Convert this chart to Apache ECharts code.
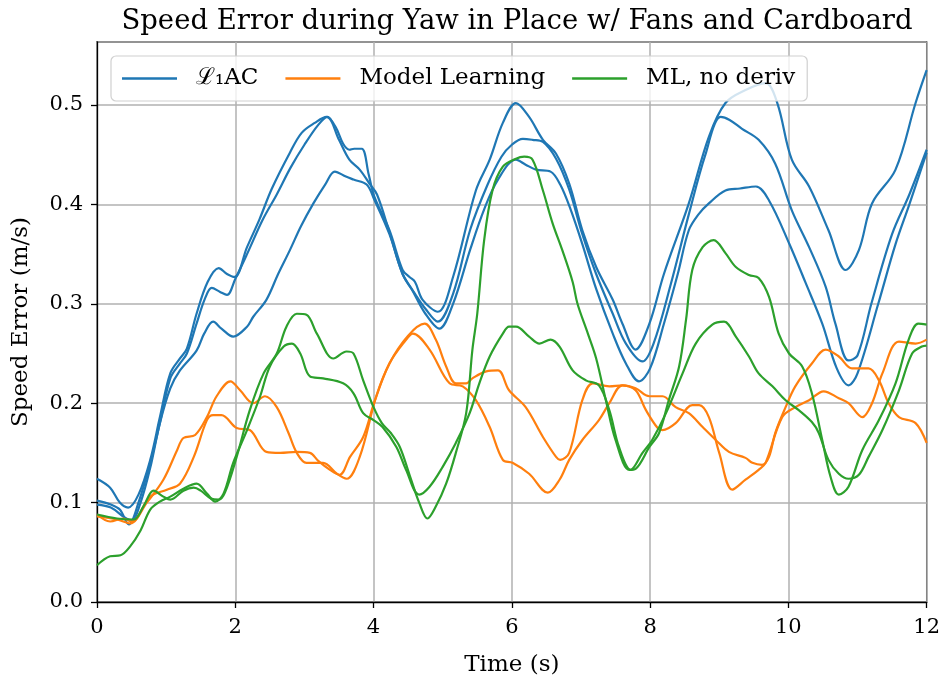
<!DOCTYPE html>
<html><head><meta charset="utf-8">
<script src="https://cdn.jsdelivr.net/npm/echarts@6/dist/echarts.min.js"></script>
<style>html,body{margin:0;padding:0;background:#fff}#c{width:943px;height:682px}</style>
</head><body><div id="c"></div>
<script>
// ---- Data (time s, speed error m/s) ----
const xTicks = [0, 2, 4, 6, 8, 10, 12];
const yTicks = [0.0, 0.1, 0.2, 0.3, 0.4, 0.5];
const legendNames = ['\u2112\u2081AC', 'Model Learning', 'ML, no deriv'];

const l1acRun1 = [[0,0.124],[0.19,0.115],[0.33,0.1],[0.45,0.095],[0.6,0.108],[0.77,0.143],[0.91,0.186],[1.06,0.23],[1.2,0.245],[1.3,0.255],[1.44,0.29],[1.6,0.322],[1.76,0.336],[1.88,0.33],[1.99,0.327],[2.17,0.357],[2.35,0.385],[2.53,0.416],[2.79,0.452],[2.96,0.472],[3.15,0.482],[3.32,0.488],[3.45,0.478],[3.56,0.461],[3.65,0.455],[3.72,0.456],[3.83,0.456],[3.93,0.43],[4.01,0.408],[4.23,0.374],[4.42,0.334],[4.52,0.327],[4.6,0.322],[4.71,0.304],[4.93,0.292],[5.15,0.327],[5.48,0.414],[5.68,0.445],[5.87,0.482],[6.06,0.502],[6.25,0.488],[6.45,0.465],[6.64,0.451],[6.83,0.421],[7.02,0.374],[7.22,0.337],[7.46,0.304],[7.6,0.28],[7.79,0.254],[7.99,0.28],[8.2,0.33],[8.56,0.401],[8.85,0.468],[9.09,0.502],[9.38,0.515],[9.67,0.522],[9.84,0.502],[10.05,0.445],[10.3,0.418],[10.58,0.374],[10.83,0.334],[11.02,0.354],[11.21,0.401],[11.55,0.435],[11.84,0.502],[12,0.535]];
const l1acRun2 = [[0,0.102],[0.2,0.098],[0.33,0.093],[0.46,0.078],[0.6,0.1],[0.77,0.14],[0.91,0.18],[1.06,0.225],[1.2,0.24],[1.3,0.25],[1.44,0.28],[1.56,0.305],[1.66,0.316],[1.78,0.312],[1.88,0.309],[2.0,0.325],[2.17,0.35],[2.4,0.385],[2.6,0.41],[2.8,0.437],[3.0,0.46],[3.2,0.48],[3.33,0.488],[3.5,0.465],[3.65,0.445],[3.8,0.435],[3.94,0.421],[4.05,0.41],[4.23,0.372],[4.42,0.33],[4.6,0.31],[4.75,0.295],[4.93,0.282],[5.15,0.31],[5.4,0.375],[5.65,0.42],[5.85,0.448],[6.0,0.46],[6.16,0.466],[6.3,0.465],[6.45,0.463],[6.64,0.446],[6.83,0.415],[7.02,0.37],[7.22,0.33],[7.46,0.29],[7.65,0.26],[7.89,0.242],[8.05,0.26],[8.3,0.32],[8.56,0.39],[8.8,0.45],[9.02,0.488],[9.15,0.485],[9.33,0.476],[9.57,0.465],[9.81,0.441],[10.05,0.394],[10.3,0.357],[10.54,0.317],[10.68,0.28],[10.87,0.243],[11.0,0.248],[11.2,0.3],[11.5,0.37],[11.75,0.41],[12,0.455]];
const l1acRun3 = [[0,0.098],[0.2,0.095],[0.4,0.085],[0.5,0.082],[0.63,0.1],[0.77,0.135],[0.91,0.18],[1.06,0.215],[1.2,0.233],[1.44,0.253],[1.55,0.27],[1.68,0.282],[1.8,0.275],[1.97,0.267],[2.17,0.277],[2.26,0.287],[2.45,0.304],[2.62,0.33],[2.79,0.354],[2.95,0.378],[3.13,0.401],[3.3,0.42],[3.44,0.433],[3.6,0.428],[3.71,0.425],[3.9,0.42],[4.01,0.405],[4.23,0.37],[4.42,0.33],[4.55,0.315],[4.75,0.29],[4.95,0.275],[5.15,0.3],[5.4,0.355],[5.6,0.395],[5.8,0.425],[6.06,0.445],[6.2,0.44],[6.35,0.435],[6.56,0.433],[6.7,0.42],[6.85,0.395],[7.02,0.36],[7.22,0.315],[7.46,0.27],[7.65,0.24],[7.84,0.222],[8.0,0.235],[8.2,0.28],[8.4,0.33],[8.56,0.374],[8.7,0.39],[8.85,0.401],[9.09,0.414],[9.3,0.416],[9.53,0.418],[9.72,0.404],[10.01,0.361],[10.25,0.321],[10.49,0.28],[10.7,0.235],[10.87,0.218],[11.0,0.23],[11.3,0.3],[11.55,0.36],[11.75,0.4],[12,0.452]];

const mlRun1 = [[0,0.088],[0.19,0.081],[0.38,0.084],[0.5,0.081],[0.72,0.1],[0.96,0.123],[1.16,0.153],[1.25,0.165],[1.42,0.168],[1.59,0.186],[1.73,0.207],[1.93,0.222],[2.07,0.213],[2.26,0.2],[2.43,0.207],[2.6,0.196],[2.77,0.17],[2.89,0.15],[3.03,0.14],[3.27,0.14],[3.47,0.129],[3.61,0.124],[3.8,0.146],[4.04,0.207],[4.23,0.24],[4.45,0.262],[4.57,0.27],[4.81,0.254],[5.1,0.22],[5.29,0.217],[5.48,0.203],[5.68,0.176],[5.87,0.143],[6.01,0.14],[6.25,0.129],[6.52,0.11],[6.69,0.123],[6.83,0.143],[7.02,0.163],[7.26,0.183],[7.41,0.2],[7.6,0.218],[7.79,0.213],[7.94,0.193],[8.11,0.175],[8.18,0.173],[8.37,0.18],[8.61,0.198],[8.71,0.198],[8.85,0.186],[9.0,0.15],[9.19,0.113],[9.38,0.123],[9.57,0.133],[9.67,0.14],[9.91,0.186],[10.1,0.196],[10.3,0.203],[10.51,0.212],[10.73,0.205],[10.87,0.2],[11.07,0.186],[11.21,0.2],[11.36,0.23],[11.6,0.262],[11.84,0.26],[12,0.264]];
const mlRun2 = [[0,0.086],[0.29,0.083],[0.48,0.079],[0.77,0.106],[1.01,0.113],[1.2,0.119],[1.4,0.146],[1.59,0.183],[1.68,0.188],[1.8,0.188],[2.02,0.175],[2.21,0.173],[2.45,0.151],[2.65,0.15],[2.89,0.151],[3.08,0.15],[3.2,0.142],[3.37,0.133],[3.51,0.128],[3.66,0.146],[3.85,0.166],[4.02,0.203],[4.23,0.24],[4.5,0.268],[4.74,0.28],[4.9,0.264],[5.05,0.237],[5.19,0.22],[5.34,0.22],[5.43,0.225],[5.63,0.232],[5.8,0.233],[5.96,0.213],[6.2,0.196],[6.45,0.166],[6.64,0.146],[6.7,0.143],[6.83,0.15],[7.02,0.203],[7.17,0.22],[7.41,0.217],[7.6,0.218],[7.79,0.215],[7.99,0.207],[8.18,0.207],[8.37,0.196],[8.56,0.19],[8.76,0.176],[8.95,0.163],[9.14,0.151],[9.38,0.145],[9.48,0.14],[9.62,0.138],[9.72,0.146],[9.81,0.17],[9.96,0.196],[10.1,0.217],[10.34,0.24],[10.54,0.254],[10.73,0.247],[10.92,0.235],[11.16,0.235],[11.31,0.223],[11.45,0.2],[11.6,0.186],[11.84,0.18],[12,0.16]];

const mlNoDerivRun1 = [[0,0.037],[0.19,0.046],[0.34,0.047],[0.48,0.056],[0.63,0.072],[0.77,0.093],[0.91,0.101],[1.06,0.106],[1.25,0.114],[1.44,0.119],[1.59,0.109],[1.71,0.101],[1.83,0.109],[1.97,0.14],[2.17,0.173],[2.36,0.207],[2.5,0.237],[2.7,0.257],[2.82,0.26],[2.94,0.25],[3.08,0.227],[3.27,0.225],[3.56,0.22],[3.71,0.21],[3.85,0.19],[4.0,0.183],[4.13,0.176],[4.33,0.156],[4.47,0.133],[4.66,0.108],[4.81,0.116],[5.0,0.136],[5.19,0.16],[5.39,0.19],[5.53,0.22],[5.68,0.247],[5.87,0.27],[5.96,0.277],[6.06,0.277],[6.25,0.267],[6.4,0.26],[6.56,0.264],[6.69,0.257],[6.88,0.233],[7.07,0.223],[7.26,0.218],[7.41,0.193],[7.55,0.156],[7.72,0.133],[7.89,0.15],[8.03,0.163],[8.23,0.19],[8.47,0.23],[8.66,0.26],[8.9,0.279],[9.07,0.282],[9.24,0.267],[9.43,0.247],[9.57,0.23],[9.77,0.217],[9.96,0.203],[10.15,0.193],[10.34,0.181],[10.44,0.17],[10.58,0.143],[10.73,0.129],[10.87,0.124],[11.02,0.128],[11.16,0.146],[11.36,0.173],[11.6,0.213],[11.79,0.25],[11.93,0.257],[12,0.258]];
const mlNoDerivRun2 = [[0,0.088],[0.29,0.084],[0.53,0.083],[0.67,0.096],[0.82,0.112],[0.96,0.106],[1.06,0.103],[1.25,0.112],[1.4,0.115],[1.5,0.112],[1.65,0.104],[1.76,0.103],[1.85,0.11],[2.02,0.146],[2.21,0.193],[2.41,0.23],[2.6,0.25],[2.74,0.277],[2.89,0.29],[3.03,0.289],[3.18,0.27],[3.42,0.245],[3.61,0.252],[3.71,0.25],[3.85,0.223],[4.0,0.196],[4.12,0.18],[4.25,0.17],[4.38,0.156],[4.52,0.128],[4.66,0.1],[4.78,0.084],[4.9,0.096],[5.05,0.119],[5.19,0.15],[5.34,0.19],[5.43,0.254],[5.5,0.29],[5.6,0.364],[5.72,0.414],[5.87,0.438],[6.06,0.446],[6.18,0.448],[6.3,0.445],[6.45,0.414],[6.59,0.381],[6.73,0.354],[6.88,0.322],[6.95,0.3],[7.1,0.27],[7.22,0.245],[7.36,0.203],[7.5,0.163],[7.7,0.133],[7.79,0.134],[7.99,0.156],[8.13,0.17],[8.27,0.203],[8.42,0.237],[8.52,0.284],[8.61,0.334],[8.76,0.357],[8.92,0.364],[9.09,0.351],[9.24,0.337],[9.43,0.329],[9.57,0.326],[9.72,0.307],[9.86,0.27],[10.01,0.25],[10.2,0.237],[10.34,0.21],[10.49,0.163],[10.61,0.126],[10.73,0.108],[10.87,0.116],[11.07,0.153],[11.31,0.183],[11.55,0.22],[11.74,0.264],[11.88,0.28],[12,0.279]];

const groups = [
  {name: legendNames[0], color: '#1f77b4', runs: [l1acRun1, l1acRun2, l1acRun3]},
  {name: legendNames[1], color: '#ff7f0e', runs: [mlRun1, mlRun2]},
  {name: legendNames[2], color: '#2ca02c', runs: [mlNoDerivRun1, mlNoDerivRun2]}
];

const FONT = 'DejaVu Serif';
const series = [];
groups.forEach(g => g.runs.forEach(r => series.push({
  name: g.name, type: 'line', data: r, showSymbol: false, smooth: 0.35,
  lineStyle: {color: g.color, width: 2.2}, itemStyle: {color: g.color},
  emphasis: {disabled: true}, animation: false
})));

const chart = echarts.init(document.getElementById('c'), null, {renderer: 'canvas'});
chart.setOption({
  animation: false,
  backgroundColor: '#fff',
  title: {text: 'Speed Error during Yaw in Place w/ Fans and Cardboard', left: 512, top: 3, textAlign: 'center',
    textStyle: {fontFamily: FONT, fontWeight: 'normal', fontSize: 27.5, color: '#000'}},
  legend: {data: legendNames, left: 111, top: 56, orient: 'horizontal', icon: 'rect', itemWidth: 55, itemHeight: 2.5,
    itemGap: 27, padding: [11, 12, 11, 11], backgroundColor: 'rgba(255,255,255,0.8)', borderColor: '#d0d0d0', borderWidth: 1.2, borderRadius: 5,
    textStyle: {fontFamily: FONT, fontSize: 23, color: '#000', padding: [0, 0, 0, 14]}},
  grid: {left: 97, right: 15, top: 42, bottom: 80, show: true, borderColor: '#000', borderWidth: 1.3, backgroundColor: 'transparent'},
  xAxis: {type: 'value', min: xTicks[0], max: xTicks[xTicks.length-1], interval: 2,
    name: 'Time (s)', nameLocation: 'middle', nameGap: 52, nameTextStyle: {fontFamily: FONT, fontSize: 23, color: '#000'},
    axisLine: {show: true, lineStyle: {color: '#000', width: 1.3}}, axisTick: {show: true, length: 6, lineStyle: {color: '#000', width: 1.3}},
    axisLabel: {fontFamily: FONT, fontSize: 21, color: '#000', margin: 15},
    splitLine: {show: true, lineStyle: {color: '#b0b0b0', width: 1.5}}},
  yAxis: {type: 'value', min: yTicks[0], max: 0.5634, interval: 0.1,
    name: 'Speed Error (m/s)', nameLocation: 'middle', nameGap: 64, nameTextStyle: {fontFamily: FONT, fontSize: 23, color: '#000'},
    axisLine: {show: true, lineStyle: {color: '#000', width: 1.3}}, axisTick: {show: true, length: 6, lineStyle: {color: '#000', width: 1.3}},
    axisLabel: {fontFamily: FONT, fontSize: 21, color: '#000', margin: 14, showMaxLabel: false,
      formatter: v => (yTicks.some(t => Math.abs(t - v) < 1e-6) ? v.toFixed(1) : '')},
    splitLine: {show: true, lineStyle: {color: '#b0b0b0', width: 1.5}}},
  series: series
});
</script></body></html>
